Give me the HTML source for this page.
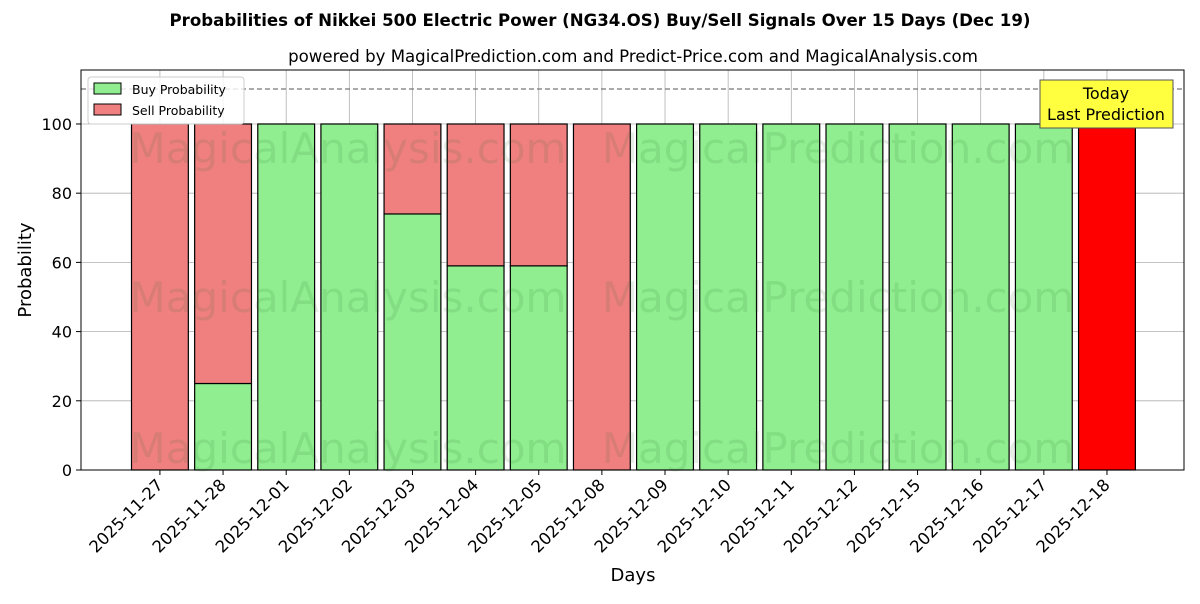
<!DOCTYPE html>
<html><head><meta charset="utf-8"><style>
body{margin:0;background:#fff;font-family:"DejaVu Sans","Liberation Sans",sans-serif;}
</style></head><body>
<svg id="chart" width="1200" height="600" xmlns="http://www.w3.org/2000/svg" font-family="DejaVu Sans, Liberation Sans, sans-serif">
<rect width="1200" height="600" fill="#fff"/>
<text x="600" y="26" text-anchor="middle" font-size="16.6" font-weight="bold">Probabilities of Nikkei 500 Electric Power (NG34.OS) Buy/Sell Signals Over 15 Days (Dec 19)</text>
<text x="633" y="62" text-anchor="middle" font-size="16.6">powered by MagicalPrediction.com and Predict-Price.com and MagicalAnalysis.com</text>
<g id="grid"></g>
<g id="bars"></g>
<g id="wm" fill="#2a6a2a" fill-opacity="0.12" font-size="42" text-anchor="middle">
<text x="348" y="163">MagicalAnalysis.com</text>
<text x="838" y="163">MagicalPrediction.com</text>
<text x="348" y="312">MagicalAnalysis.com</text>
<text x="838" y="312">MagicalPrediction.com</text>
<text x="348" y="463">MagicalAnalysis.com</text>
<text x="838" y="463">MagicalPrediction.com</text>
</g>
<line x1="81" x2="1184" y1="89" y2="89" stroke="#777" stroke-width="1.3" stroke-dasharray="5,3"/>
<rect x="81" y="70" width="1103" height="400" fill="none" stroke="#000" stroke-width="1"/>
<g id="ticks"></g>
<text transform="translate(31,270) rotate(-90)" text-anchor="middle" font-size="18">Probability</text>
<text x="633" y="581" text-anchor="middle" font-size="18">Days</text>
<g>
<rect x="88" y="77" width="156" height="47" rx="3" fill="#fff" fill-opacity="0.8" stroke="#ccc"/>
<rect x="94" y="83" width="27" height="11" fill="#90ee90" stroke="#000"/>
<text x="132" y="94" font-size="12.5">Buy Probability</text>
<rect x="94" y="104" width="27" height="11" fill="#f08080" stroke="#000"/>
<text x="132" y="115" font-size="12.5">Sell Probability</text>
</g>
<g>
<rect x="1040" y="80" width="133" height="48" fill="#ffff40" stroke="#555"/>
<text x="1106" y="99" text-anchor="middle" font-size="16">Today</text>
<text x="1106" y="120" text-anchor="middle" font-size="16">Last Prediction</text>
</g>
</svg>
<script>
const days=["2025-11-27","2025-11-28","2025-12-01","2025-12-02","2025-12-03","2025-12-04","2025-12-05","2025-12-08","2025-12-09","2025-12-10","2025-12-11","2025-12-12","2025-12-15","2025-12-16","2025-12-17","2025-12-18"];
const buy=[0,25,100,100,74,59,59,0,100,100,100,100,100,100,100,0];
const sell=[100,75,0,0,26,41,41,100,0,0,0,0,0,0,0,100];
const yTicks=[0,20,40,60,80,100];
const NS="http://www.w3.org/2000/svg";
const X0=81,X1=1184,Y0=470,Y1=70,YMAX=115.6;
const step=(X1-X0)/(days.length+1.47);
const x=i=>X0+step*(1.25+i);
const y=v=>Y0-(Y0-Y1)*v/YMAX;
const bw=step*0.9;
function mk(tag,a,p){const e=document.createElementNS(NS,tag);for(const k in a)e.setAttribute(k,a[k]);p.appendChild(e);return e;}
const grid=document.getElementById('grid'),bars=document.getElementById('bars'),ticks=document.getElementById('ticks');
yTicks.forEach(t=>{
 const l=mk('line',{x1:X0,x2:X1,y1:y(t),y2:y(t),stroke:'#b0b0b0','stroke-width':0.8},grid);
 
 
 mk('line',{x1:X0-5,x2:X0,y1:y(t),y2:y(t),stroke:'#000'},ticks);
 const tx=mk('text',{x:X0-9,y:y(t)+6,'text-anchor':'end','font-size':16},ticks);tx.textContent=t;
 
 
});
days.forEach((d,i)=>{
 const cx=x(i);
 const g=mk('line',{x1:cx,x2:cx,y1:Y1,y2:Y0,stroke:'#b0b0b0','stroke-width':0.8},grid);
 
 
 const last=i===days.length-1;
 if(buy[i]>0){const r=mk('rect',{x:cx-bw/2,y:y(buy[i]),width:bw,height:y(0)-y(buy[i]),fill:'#90ee90',stroke:'#000','stroke-width':1.2},bars);
  
  }
 if(sell[i]>0){const r=mk('rect',{x:cx-bw/2,y:y(buy[i]+sell[i]),width:bw,height:y(buy[i])-y(buy[i]+sell[i]),fill:last?'#ff0000':'#f08080',stroke:'#000','stroke-width':1.2},bars);
  
  }
 mk('line',{x1:cx,x2:cx,y1:Y0,y2:Y0+5,stroke:'#000'},ticks);
 const t=mk('text',{transform:`translate(${cx+4},${Y0+16}) rotate(-45)`,'text-anchor':'end','font-size':16.5},ticks);t.textContent=d;
 
 
});
</script>
</body></html>
